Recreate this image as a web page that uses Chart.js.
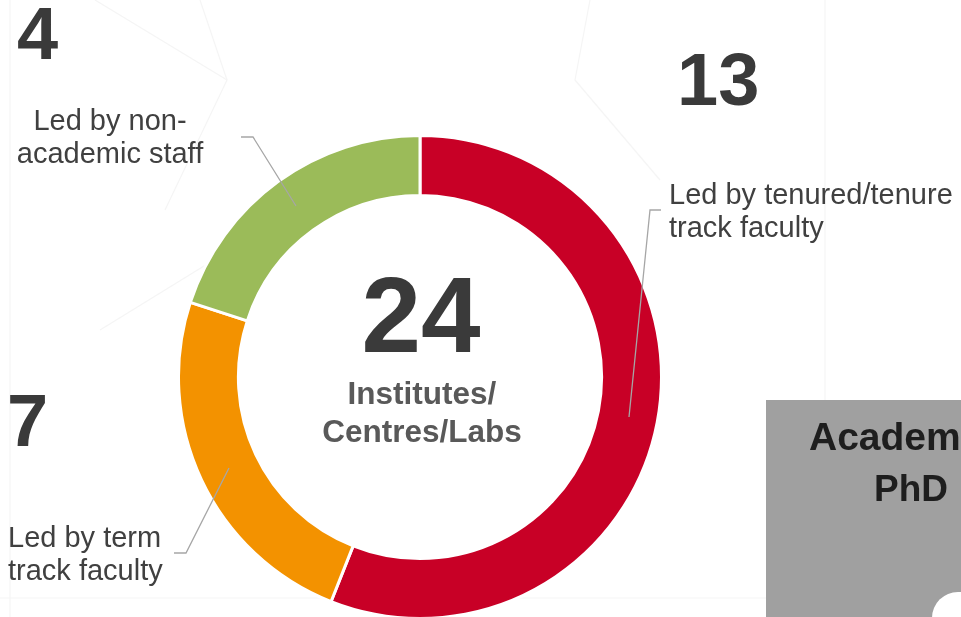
<!DOCTYPE html>
<html>
<head>
<meta charset="utf-8">
<script src="https://cdn.jsdelivr.net/npm/chart.js@4.4.1/dist/chart.umd.min.js"></script>
<style>
  html, body { margin: 0; padding: 0; background: #fff; }
  body { width: 961px; height: 617px; overflow: hidden; position: relative;
         font-family: "Liberation Sans", Arial, sans-serif; }
  #bg, #leaders { position: absolute; left: 0; top: 0; }
  #wrap { position: absolute; left: 177px; top: 134px; width: 486px; height: 486px; }
  .t { position: absolute; white-space: nowrap; }
  .big { font-weight: bold; font-size: 74px; line-height: 1; color: #3a3a3a; }
  .lbl { font-size: 29px; line-height: 33px; color: #404040; }
  #box { position: absolute; left: 766px; top: 400px; width: 220px; height: 240px; background: #a0a0a0; overflow: hidden; }
</style>
</head>
<body>
<svg id="bg" width="961" height="617">
  <g stroke="#f5f5f5" stroke-width="1.2" fill="none">
    <polyline points="95,0 227,80 165,210"/>
    <polyline points="200,0 227,80"/>
    <polyline points="10,0 10,617"/>
    <polyline points="825,0 825,400"/>
    <polyline points="590,0 575,80 660,180"/>
    <polyline points="100,330 230,250"/>
    <polyline points="0,598 961,598"/>
  </g>
</svg>
<div id="wrap"><canvas id="donut" width="486" height="486"></canvas></div>
<svg id="leaders" width="961" height="617">
  <g stroke="#a6a6a6" stroke-width="1.3" fill="none">
    <polyline points="241,137 253,137 296,206"/>
    <polyline points="661,210 650,210 629,417"/>
    <polyline points="174,553 186,553 229,468"/>
  </g>
</svg>

<div class="t big" style="left:17px; top:-3px;">4</div>
<div class="t lbl" style="left:10px; top:104px; width:200px; text-align:center;">Led by non-<br>academic staff</div>

<div class="t big" style="left:677px; top:43px;">13</div>
<div class="t lbl" style="left:669px; top:178px;">Led by tenured/tenure<br>track faculty</div>

<div class="t big" style="left:7px; top:384px;">7</div>
<div class="t lbl" style="left:8px; top:521px;">Led by term<br>track faculty</div>

<div class="t" style="left:321px; top:262px; width:200px; text-align:center; font-weight:bold; font-size:107px; line-height:1; color:#3a3a3a;">24</div>
<div class="t" style="left:322px; top:374px; width:200px; text-align:center; font-weight:bold; font-size:31.5px; line-height:38px; color:#595959;">Institutes/<br>Centres/Labs</div>

<div id="box">
  <div class="t" style="left:43px; top:17px; font-weight:bold; font-size:39px; line-height:1; color:#1e1e1e;">Academic</div>
  <div class="t" style="left:108px; top:70px; font-weight:bold; font-size:37px; line-height:1; color:#1e1e1e;">PhD</div>
  <div style="position:absolute; left:166px; top:192px; width:80px; height:60px; background:#fff; border-radius:26px 0 0 0;"></div>
</div>

<script>
// Slice shares as drawn in the picture (ring proportions), and the counts printed beside them
const labels = ['Led by tenured/tenure track faculty', 'Led by term track faculty', 'Led by non-academic staff'];
const counts = [13, 7, 4];
const shares = [14, 6, 5];
const colors = ['#c80026', '#f39200', '#9bbb59'];

const ctx = document.getElementById('donut').getContext('2d');
new Chart(ctx, {
  type: 'doughnut',
  data: {
    labels,
    datasets: [{
      data: shares,
      backgroundColor: colors,
      borderColor: '#ffffff',
      borderWidth: 3
    }]
  },
  options: {
    responsive: false,
    animation: false,
    cutout: '75.2%',
    layout: { padding: 0 },
    plugins: {
      legend: { display: false },
      tooltip: { enabled: false }
    }
  }
});
</script>
</body>
</html>
